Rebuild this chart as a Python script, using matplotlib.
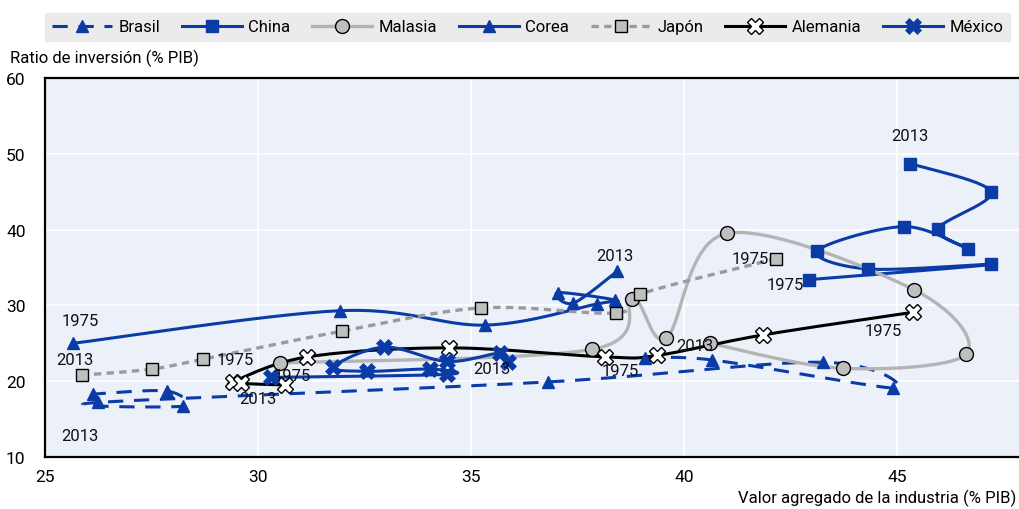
import matplotlib
matplotlib.use("Agg")
import matplotlib.pyplot as plt
import numpy as np

plt.rcParams['font.family'] = ['Roboto', 'DejaVu Sans']

BLUE = "#0b3ca6"; GREY_L = "#b4b4b4"; GREY_M = "#bfbfbf"; GREY_D = "#9a9a9a"
BG_AX = "#ebf0f9"; BG_LEG = "#e6e6e6"

# data (industry VA % GDP, investment % GDP), from 1975 to 2013
brasil_x = [39.08, 40.66, 44.90, 43.26, 36.80, 26.25, 28.24, 27.86, 26.13]
brasil_y = [23.0, 22.8, 19.1, 22.5, 19.9, 17.2, 16.7, 18.7, 18.3]
china_x = [42.93, 47.20, 44.32, 43.12, 45.16, 46.67, 45.96, 47.20, 45.31]
china_y = [33.4, 35.4, 34.8, 37.2, 40.4, 37.5, 40.1, 45.0, 48.7]
malasia_x = [30.52, 37.84, 38.78, 39.58, 41.00, 45.40, 46.62, 43.73, 40.60]
malasia_y = [22.4, 24.2, 30.9, 25.7, 39.5, 32.05, 23.6, 21.7, 25.0]
corea_x = [25.66, 31.92, 35.33, 37.96, 38.38, 37.04, 37.40, 38.43]
corea_y = [25.0, 29.3, 27.4, 30.2, 30.7, 31.7, 30.3, 34.5]
japon_x = [42.16, 38.97, 38.40, 35.23, 31.97, 28.71, 27.51, 25.87]
japon_y = [36.16, 31.5, 29.0, 29.67, 26.6, 22.9, 21.6, 20.8]
alemania_x = [45.38, 41.85, 39.37, 38.15, 34.48, 31.15, 29.41, 29.60, 30.63]
alemania_y = [29.1, 26.1, 23.4, 23.2, 24.4, 23.2, 19.9, 19.7, 19.5]
mexico_x = [30.30, 34.44, 34.04, 32.56, 31.76, 32.96, 34.44, 35.68, 35.87]
mexico_y = [20.5, 20.9, 21.6, 21.3, 21.85, 24.5, 22.6, 23.7, 22.5]

names = ["Brasil", "China", "Malasia", "Corea", "Japón", "Alemania", "México"]


def smooth(x, y, n=30):
    # uniform Catmull-Rom through the points (like a spreadsheet "smoothed line")
    p = np.column_stack([x, y]).astype(float)
    p = np.vstack([p[0], p, p[-1]])
    out = []
    t = np.linspace(0, 1, n)[:, None]
    for i in range(1, len(p) - 2):
        p0, p1, p2, p3 = p[i - 1], p[i], p[i + 1], p[i + 2]
        seg = 0.5 * ((2 * p1) + (-p0 + p2) * t + (2 * p0 - 5 * p1 + 4 * p2 - p3) * t ** 2
                     + (-p0 + 3 * p1 - 3 * p2 + p3) * t ** 3)
        out.append(seg if i == 1 else seg[1:])
    s = np.vstack(out)
    return s[:, 0], s[:, 1]


fig = plt.figure(figsize=(10.19, 5.10), dpi=100)
ax = fig.add_axes([45 / 1019, 1 - 458 / 510, 1 - 45 / 1019, 379 / 510])
ax.set_facecolor(BG_AX)

styles = [
    (brasil_x, brasil_y, dict(color=BLUE, lw=2.2, ls=(0, (5, 3.5))), dict(marker="^", ms=9, mfc=BLUE, mec=BLUE)),
    (china_x, china_y, dict(color=BLUE, lw=2.2, ls="-"), dict(marker="s", ms=8.5, mfc=BLUE, mec=BLUE)),
    (malasia_x, malasia_y, dict(color=GREY_L, lw=2.4, ls="-"), dict(marker="o", ms=10, mfc=GREY_M, mec="black", mew=1)),
    (corea_x, corea_y, dict(color=BLUE, lw=2.2, ls="-"), dict(marker="^", ms=9, mfc=BLUE, mec=BLUE)),
    (japon_x, japon_y, dict(color=GREY_D, lw=2.4, ls=(0, (2.2, 1.6))), dict(marker="s", ms=9, mfc=GREY_M, mec="black", mew=1)),
    (alemania_x, alemania_y, dict(color="black", lw=2.2, ls="-"), dict(marker="X", ms=11, mfc="white", mec="black", mew=1)),
    (mexico_x, mexico_y, dict(color=BLUE, lw=2.2, ls="-"), dict(marker="X", ms=11, mfc=BLUE, mec=BLUE, mew=0.5)),
]

handles = []
for (xs, ys, lkw, mkw), name in zip(styles, names):
    sx, sy = smooth(xs, ys)
    ax.plot(sx, sy, zorder=3, **lkw)
    ax.plot(xs, ys, ls="none", zorder=4, **mkw)
    h, = ax.plot([], [], label=name, **lkw, **mkw)
    handles.append(h)

# year labels
year_labels = [
    (45.30, 52.4, "2013"), (38.38, 36.6, "2013"), (41.55, 36.2, "1975"), (42.37, 32.7, "1975"),
    (25.82, 28.0, "1975"), (44.67, 26.7, "1975"), (40.26, 24.75, "2013"), (25.70, 22.8, "2013"),
    (29.46, 22.8, "1975"), (30.80, 20.8, "1975"), (35.50, 21.7, "2013"), (38.50, 21.45, "1975"),
    (30.00, 17.75, "2013"), (25.82, 12.9, "2013"),
]
for lx, ly, t in year_labels:
    ax.text(lx, ly, t, ha="center", va="center", fontsize=12, color="#111111", zorder=5)

ax.set_xlim(25, 47.86)
ax.set_ylim(10, 60)
ax.set_xticks([25, 30, 35, 40, 45])
ax.set_yticks([10, 20, 30, 40, 50, 60])
ax.grid(color="white", lw=1.2, zorder=0)
ax.set_axisbelow(True)
ax.tick_params(length=0, labelsize=12.5, pad=9)
ax.tick_params(axis="y", pad=14)
for side in ["left", "bottom", "top"]:
    ax.spines[side].set_color("black")
    ax.spines[side].set_linewidth(1.6)
ax.spines["right"].set_visible(False)

fig.text(10 / 1019, 1 - 58 / 510, "Ratio de inversión (% PIB)", fontsize=12, ha="left", va="center")
fig.text(1016 / 1019, 1 - 498 / 510, "Valor agregado de la industria (% PIB)", fontsize=12, ha="right", va="center")

leg = fig.legend(handles=handles, loc="lower left", mode="expand",
                 bbox_to_anchor=(45 / 1019, 1 - 42 / 510, 965 / 1019, 35 / 510), ncol=7,
                 frameon=True, fontsize=12, handlelength=3.6, handletextpad=0.4,
                 borderpad=0.4, borderaxespad=0)
leg.get_frame().set_facecolor(BG_LEG)
leg.get_frame().set_edgecolor(BG_LEG)
leg.get_frame().set_boxstyle("square", pad=0)

fig.savefig("out.png", dpi=100)
